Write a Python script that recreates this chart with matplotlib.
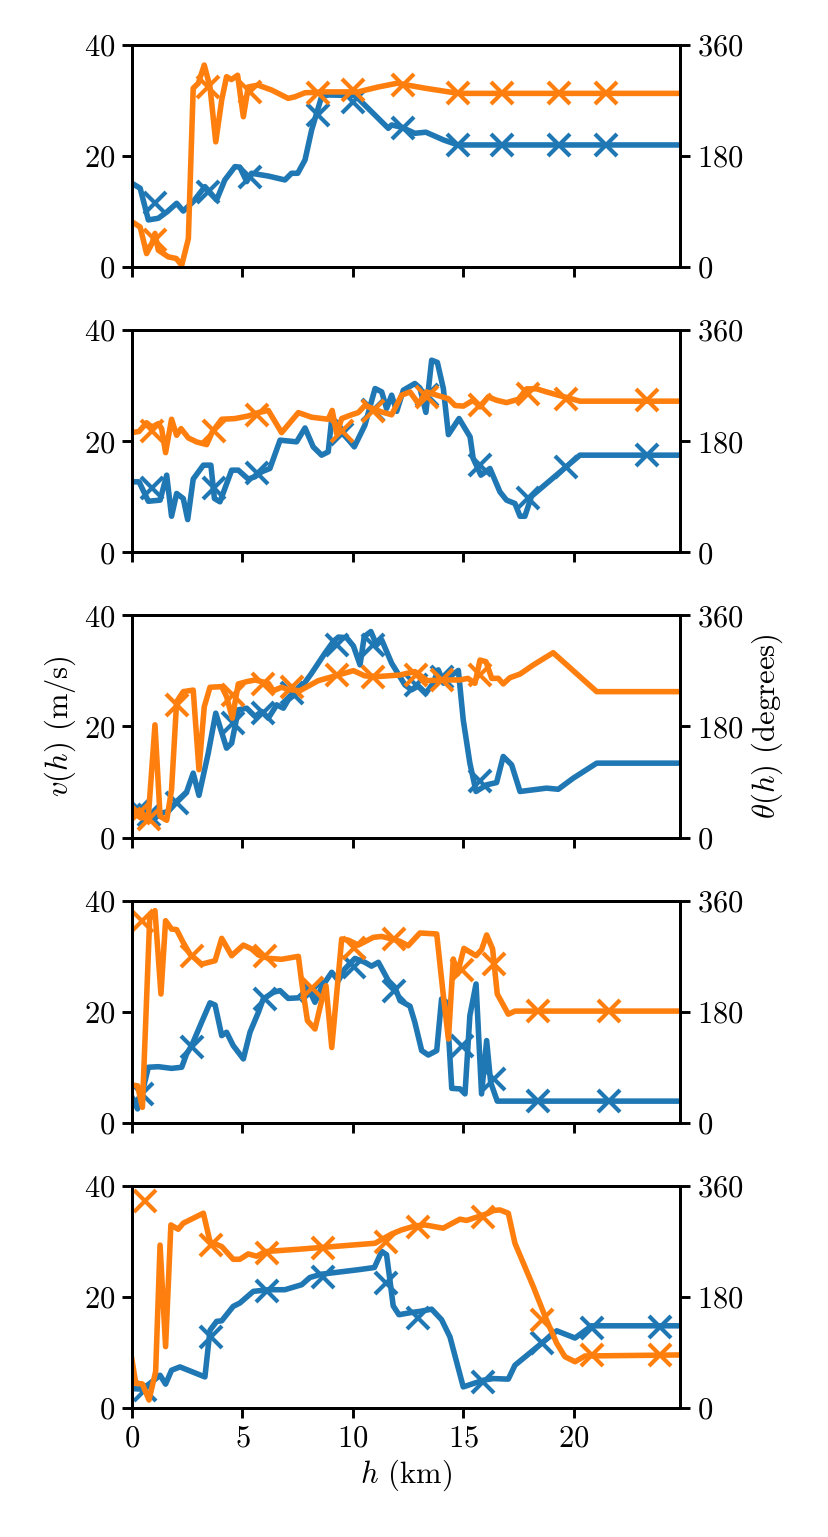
import matplotlib
matplotlib.use("Agg")
import matplotlib.pyplot as plt

plt.rcParams['font.family'] = 'serif'
plt.rcParams['font.serif'] = ['cmr10']
plt.rcParams['mathtext.fontset'] = 'cm'
plt.rcParams['axes.formatter.use_mathtext'] = True
plt.rcParams['font.size'] = 22

H_MAX = 24.8

# panel 1
p1_h_speed = [0.0, 0.37, 0.74, 1.19, 1.6, 2.02, 2.32, 2.77, 3.3, 3.83, 4.2, 4.66, 4.88, 5.19, 5.41, 6.17,
              6.92, 7.22, 7.5, 7.83, 8.13, 8.58, 8.88, 10.1, 11.6, 11.75, 12.2, 12.8, 13.3, 14.1, 14.75, 24.8]
p1_speed = [15.1, 14.2, 8.5, 8.8, 10.0, 11.5, 10.1, 11.8, 14.5, 12.1, 15.7, 18.1, 18.0, 15.4, 16.9, 16.4,
            15.7, 16.9, 16.9, 19.3, 24.7, 30.7, 31.0, 30.9, 25.0, 25.6, 25.2, 24.1, 24.3, 22.9, 22.0, 22.0]
p1_h_dir = [0.0, 0.37, 0.66, 0.9, 1.04, 1.19, 1.64, 2.0, 2.25, 2.55, 2.77, 3.0, 3.27, 3.53, 3.79, 4.06, 4.28,
            4.5, 4.78, 5.04, 5.26, 5.7, 6.32, 7.07, 7.37, 7.83, 8.73, 10.23, 11.15, 12.0, 13.26, 14.77, 24.8]
p1_dir = [73.5, 65, 22, 38, 54.6, 27.5, 16.7, 14, 3, 46, 290, 298, 327.5, 292, 203, 271, 308.6,
          304, 311, 243.7, 292, 295, 287, 273.5, 276, 282.6, 284, 284, 292, 298, 290, 281.6, 281.6]
p1_h_obs = [1.04, 3.45, 5.34, 8.43, 10.0, 12.28, 14.77, 16.73, 19.34, 21.45]
p1_speed_obs = [11.5, 13.6, 16.3, 27.4, 29.8, 25.0, 22.0, 22.0, 22.0, 22.0]
p1_dir_obs = [43.8, 292, 284, 281.6, 287, 295, 281.6, 281.6, 281.6, 281.6]

# panel 2
p2_h_speed = [0.0, 0.32, 0.74, 1.27, 1.57, 1.79, 2.02, 2.32, 2.52, 2.77, 3.23, 3.57, 3.73, 3.98, 4.51, 4.81,
              5.26, 5.56, 5.87, 6.24, 6.7, 7.45, 7.83, 8.2, 8.58, 8.88, 9.04, 9.33, 9.63, 10.06, 10.54, 11.0,
              11.3, 11.52, 11.75, 11.98, 12.28, 12.8, 13.03, 13.3, 13.56, 13.82, 14.09, 14.32, 14.8, 15.3,
              15.44, 15.79, 16.2, 16.65, 16.95, 17.33, 17.56, 17.78, 18.08, 20.27, 24.8]
p2_speed = [12.7, 12.7, 9.2, 9.4, 13.9, 6.5, 10.6, 9.7, 5.9, 13.2, 15.7, 15.7, 9.7, 9.1, 14.8, 14.8,
            13.2, 13.6, 14.5, 15.1, 20.2, 19.9, 22.4, 19.0, 17.5, 18.1, 24.1, 23.2, 21.1, 19.0, 22.9, 29.5,
            28.9, 25.9, 28.3, 25.4, 29.2, 30.4, 29.6, 25.2, 34.6, 34.2, 29.5, 21.2, 24.1, 20.8,
            16.9, 13.9, 15.1, 10.9, 9.4, 8.8, 6.5, 6.5, 10.1, 17.5, 17.5]
p2_h_dir = [0.0, 0.32, 0.66, 0.9, 1.19, 1.34, 1.52, 1.79, 2.02, 2.22, 2.55, 2.93, 3.38, 3.63, 4.06, 4.66,
            5.26, 5.72, 6.17, 6.77, 7.53, 8.13, 8.88, 9.06, 9.26, 9.49, 9.94, 10.24, 10.54, 11.3, 11.75,
            12.2, 12.58, 12.96, 13.33, 13.8, 14.32, 14.62, 15.0, 15.44, 15.75, 16.12, 16.5, 16.95, 17.48,
            17.86, 18.31, 18.76, 20.27, 24.8]
p2_dir = [194, 196, 210, 203, 208.6, 200.5, 161.6, 215.7, 189.7, 200.5, 185.4, 178.9, 174.6, 195, 215.7, 216.8,
          221, 226.5, 230, 194, 226.5, 219, 215.7, 230, 192.5, 216.8, 223, 226.5, 238, 227.5, 223,
          254.6, 260, 241, 260, 254.6, 249, 238, 237, 246.5, 235.6, 252, 246.5, 242.7, 248,
          265, 265, 260, 245, 245]
p2_h_obs = [0.89, 3.72, 5.64, 9.49, 10.92, 13.37, 15.75, 17.93, 19.62, 23.29]
p2_speed_obs = [11.5, 11.6, 14.2, 21.4, 25.6, 28.3, 15.7, 9.7, 15.4, 17.5]
p2_dir_obs = [196, 196, 223, 196, 228.6, 252, 238, 257, 249, 246.5]

# panel 3
p3_h_speed = [0.0, 0.32, 0.62, 1.04, 1.34, 1.64, 2.02, 2.47, 2.77, 3.03, 3.45, 3.79, 4.28, 4.51, 4.81, 5.19,
              5.57, 5.87, 6.17, 6.55, 6.85, 7.07, 7.53, 8.13, 8.73, 9.11, 9.34, 9.71, 10.02, 10.32, 10.51,
              10.81, 11.07, 11.3, 11.75, 12.35, 12.65, 12.96, 13.3, 13.63, 13.86, 14.1, 14.39, 14.77, 14.99,
              15.29, 15.57, 16.05, 16.5, 16.8, 17.18, 17.56, 18.76, 19.29, 19.97, 21.03, 24.8]
p3_speed = [5.6, 4.4, 5.3, 3.5, 4.4, 4.7, 6.5, 8.2, 11.6, 7.6, 15.2, 22.4, 16.1, 17.0, 23.0, 23.3,
            21.8, 22.7, 21.5, 23.9, 23.3, 24.8, 26.3, 29.6, 33.2, 35.3, 36.1, 36.0, 34.5, 31.1, 36.2,
            37.1, 34.7, 35.6, 31.4, 27.5, 26.6, 27.3, 26.0, 27.8, 30.2, 27.8, 29.0, 30.1, 21.2,
            13.4, 8.3, 9.5, 9.9, 14.6, 13.1, 8.3, 8.9, 8.7, 10.7, 13.4, 13.4]
p3_h_dir = [0.0, 0.4, 0.74, 1.04, 1.27, 1.57, 1.79, 2.02, 2.32, 2.77, 3.03, 3.27, 3.53, 4.06, 4.28, 4.54,
            4.81, 5.19, 5.57, 6.17, 6.4, 6.77, 7.07, 7.6, 8.43, 9.34, 10.02, 10.54, 11.15, 12.13, 12.8,
            13.37, 14.1, 14.84, 15.2, 15.52, 15.75, 16.02, 16.28, 16.58, 16.8, 17.1, 17.56, 18.16, 19.06,
            21.03, 24.8]
p3_dir = [42.5, 31.8, 34.5, 182.7, 34.5, 28, 77.6, 220, 236.5, 239, 110, 212, 243.6, 244.6, 228.4, 193.5,
          249, 252.7, 255.4, 250, 238, 243.6, 240, 238, 254.3, 263.5, 270.5, 262, 261, 263.5, 269,
          254.3, 255.4, 255.4, 258, 250, 287.7, 285, 258, 258, 249, 259, 265, 279.7, 299.6,
          236.5, 236.5]
p3_h_obs = [0.3, 0.75, 2.05, 4.55, 5.94, 7.22, 9.26, 10.9, 12.85, 14.01, 15.75]
p3_speed_obs = [5.0, 4.0, 6.2, 20.6, 22.4, 26.0, 34.7, 34.7, 27.5, 29.0, 10.1]
p3_dir_obs = [40, 30, 215, 231, 249, 244.6, 263.5, 260.8, 263.5, 255.4, 263.5]

# panel 4
p4_h_speed = [0.0, 0.25, 0.47, 0.74, 1.19, 1.79, 2.25, 2.47, 2.7, 3.15, 3.53, 3.76, 4.06, 4.28, 4.58, 5.04,
              5.34, 5.72, 5.94, 6.4, 6.7, 7.07, 7.53, 7.98, 8.28, 8.58, 9.04, 9.34, 9.63, 10.09, 10.54,
              10.84, 11.15, 11.6, 11.9, 12.13, 12.58, 12.8, 13.11, 13.41, 13.79, 14.01, 14.24, 14.47,
              14.85, 15.07, 15.29, 15.57, 15.82, 16.05, 16.23, 16.53, 24.8]
p4_speed = [4.6, 2.5, 5.5, 10.0, 10.1, 9.8, 10.0, 12.4, 13.9, 18.1, 21.6, 21.2, 15.7, 16.3, 13.9, 11.5,
            16.3, 19.9, 22.3, 23.5, 23.8, 22.4, 22.5, 24.2, 21.7, 24.4, 27.1, 25.6, 27.7, 29.6, 28.9,
            28.2, 28.9, 25.6, 24.4, 22.0, 21.0, 18.1, 13.0, 12.2, 13.0, 22.3, 21.7, 6.2,
            6.1, 5.2, 19.3, 25.0, 5.2, 14.8, 7.3, 3.9, 3.9]
p4_h_dir = [0.0, 0.25, 0.47, 0.8, 1.04, 1.31, 1.52, 1.79, 2.02, 2.32, 2.62, 3.15, 3.76, 4.06, 4.51, 5.04,
            5.41, 5.72, 6.17, 6.77, 7.53, 7.68, 7.94, 8.28, 8.58, 8.78, 9.04, 9.49, 9.79, 10.24, 10.92,
            11.3, 11.75, 12.13, 12.5, 13.03, 13.79, 14.09, 14.32, 14.54, 14.72, 15.02, 15.57, 15.82,
            16.05, 16.32, 16.53, 17.03, 17.33, 24.8]
p4_dir = [61, 60, 25, 330, 343.8, 208.7, 327.5, 314, 313, 292, 273.5, 257, 262.7, 298.9, 270.8, 288,
          281.7, 272, 266.5, 265, 269.7, 227.5, 165.4, 152, 197.8, 222, 122, 298, 296, 288, 300.5,
          302, 298, 294, 287, 307.6, 306, 206, 135.7, 265.4, 241, 282.6, 270.8, 280.5,
          304.4, 281.7, 208.7, 176, 181, 181]
p4_h_obs = [0.45, 2.7, 6.02, 8.13, 10.05, 11.87, 14.92, 16.4, 18.39, 21.6]
p4_speed_obs = [5.2, 13.6, 22.3, 23.8, 28.0, 23.8, 13.9, 7.9, 4.0, 4.0]
p4_dir_obs = [327.5, 270.8, 269.7, 219, 284, 298, 248, 257, 181, 181]

# panel 5
p5_h_speed = [0.0, 0.4, 0.77, 1.27, 1.52, 1.79, 2.17, 3.3, 3.53, 3.83, 4.06, 4.58, 4.88, 5.49, 6.17, 6.92,
              7.68, 8.05, 8.58, 10.24, 10.97, 11.3, 11.52, 11.67, 11.82, 12.08, 12.65, 13.03, 13.56, 14.01,
              14.39, 14.99, 15.9, 16.35, 17.03, 17.33, 18.46, 19.22, 20.05, 20.8, 24.8]
p5_speed = [3.5, 3.4, 4.3, 5.9, 4.3, 6.8, 7.4, 5.6, 14.0, 15.6, 15.7, 18.3, 18.9, 21.0, 21.3, 21.3,
            22.2, 23.5, 24.1, 24.9, 25.3, 28.2, 27.6, 23.1, 18.4, 16.8, 17.2, 17.4, 17.8, 15.9,
            12.8, 3.8, 5.0, 5.3, 5.2, 7.7, 11.4, 13.9, 12.6, 14.8, 14.8]
p5_h_dir = [0.0, 0.17, 0.47, 0.77, 1.07, 1.27, 1.52, 1.76, 2.09, 2.32, 3.23, 3.53, 4.06, 4.58, 4.88, 5.26,
            5.64, 6.02, 7.53, 8.73, 11.0, 11.75, 12.2, 12.8, 13.26, 14.08, 14.84, 15.14, 15.75, 16.12,
            16.35, 16.65, 17.03, 17.33, 18.16, 18.76, 19.22, 19.59, 20.05, 20.5, 24.8]
p5_dir = [77.8, 40, 39, 13, 59, 264, 99.5, 296.7, 289.7, 299.5, 315.7, 269.7, 261.6, 241, 241, 249.7,
          246, 253.5, 257.3, 260.6, 267, 282, 288.6, 295, 296.7, 291.4, 306, 304, 311, 315.7,
          320, 321, 315.7, 267, 196.7, 142.7, 105, 83.2, 75, 84.3, 86]
p5_h_obs = [0.59, 3.58, 6.09, 8.66, 11.48, 12.96, 15.87, 18.54, 20.8, 23.89]
p5_speed_obs = [3.2, 12.8, 21.0, 23.5, 22.5, 16.2, 4.7, 11.7, 14.4, 14.6]
p5_dir_obs = [336, 264, 250.8, 259, 269.7, 294, 310, 142.7, 86, 86]

panels = [
    (p1_h_speed, p1_speed, p1_h_dir, p1_dir, p1_h_obs, p1_speed_obs, p1_dir_obs),
    (p2_h_speed, p2_speed, p2_h_dir, p2_dir, p2_h_obs, p2_speed_obs, p2_dir_obs),
    (p3_h_speed, p3_speed, p3_h_dir, p3_dir, p3_h_obs, p3_speed_obs, p3_dir_obs),
    (p4_h_speed, p4_speed, p4_h_dir, p4_dir, p4_h_obs, p4_speed_obs, p4_dir_obs),
    (p5_h_speed, p5_speed, p5_h_dir, p5_dir, p5_h_obs, p5_speed_obs, p5_dir_obs),
]

fig, axes = plt.subplots(5, 1, sharex=True, figsize=(8.29, 15.37), dpi=100)
fig.subplots_adjust(left=132 / 829, right=680 / 829, top=1 - 45 / 1537, bottom=1 - 1408 / 1537, hspace=0.284)

lw = 4.0
ms = 16
mew = 3.0
tick_kw = dict(length=7.2, width=2.1, pad=5)

for ax, (hs, sp, hd, dr, ho, so, do) in zip(axes, panels):
    ax2 = ax.twinx()
    ax.plot(hs, sp, color='C0', lw=lw)
    ax.plot(ho, so, color='C0', ls='none', marker='x', ms=ms, mew=mew)
    ax2.plot(hd, dr, color='C1', lw=lw)
    ax2.plot(ho, do, color='C1', ls='none', marker='x', ms=ms, mew=mew)

    ax.set_xlim(0, H_MAX)
    ax.set_ylim(0, 40)
    ax2.set_ylim(0, 360)
    ax.set_yticks([0, 20, 40])
    ax2.set_yticks([0, 180, 360])
    ax.set_xticks([0, 5, 10, 15, 20])
    ax.tick_params(**tick_kw)
    ax2.tick_params(**tick_kw)
    for a in (ax, ax2):
        for s in a.spines.values():
            s.set_linewidth(2.1)
    if ax is axes[2]:
        ax.set_ylabel(r'$v(h)$ (m/s)')
        ax2.set_ylabel(r'$\theta(h)$ (degrees)')

axes[-1].set_xlabel(r'$h$ (km)')

fig.savefig('out.png', dpi=100)
